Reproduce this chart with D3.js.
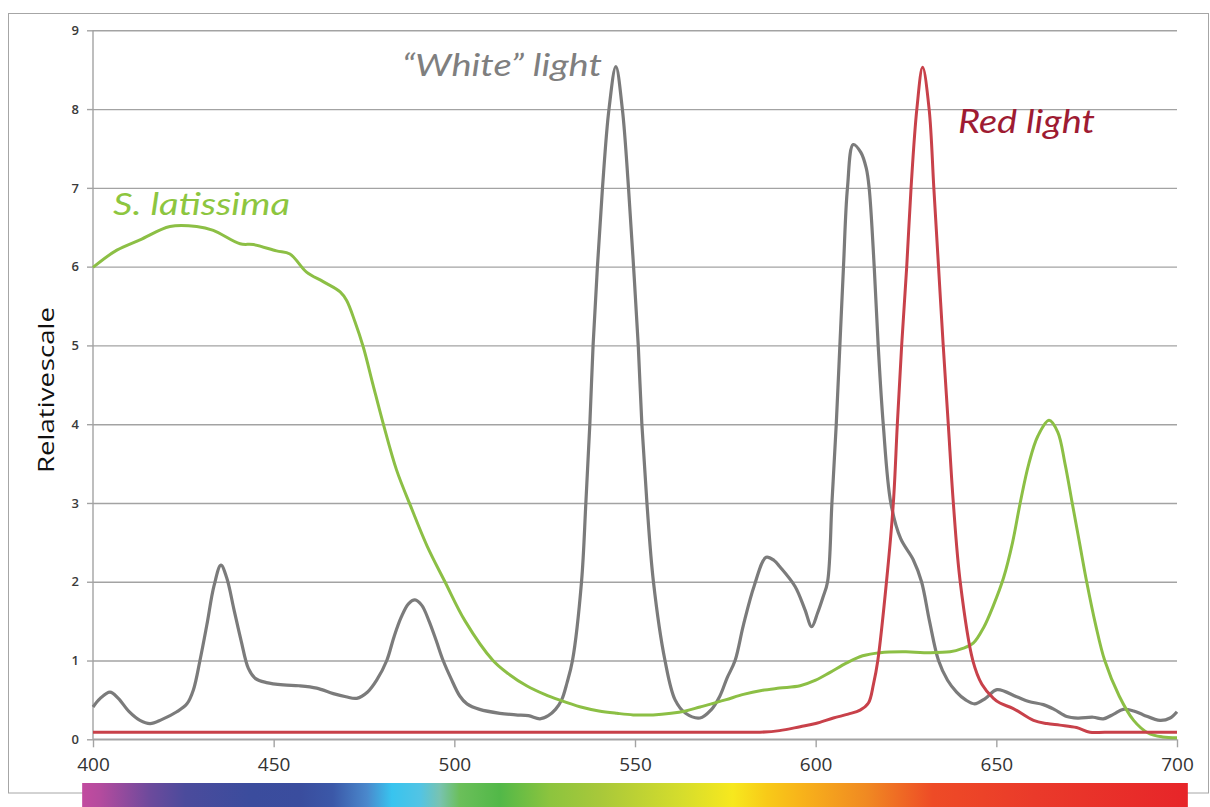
<!DOCTYPE html>
<html>
<head>
<meta charset="utf-8">
<script src="https://cdn.jsdelivr.net/npm/d3@7"></script>
<style>
  html, body { margin: 0; padding: 0; background: #fff; }
  svg { display: block; }
</style>
</head>
<body>
<svg id="chart" width="1210" height="807"></svg>
<script>
// Wavelength axis (nm) and relative-scale axis
const wavelengthTicks = [400, 450, 500, 550, 600, 650, 700];
const scaleTicks = [0, 1, 2, 3, 4, 5, 6, 7, 8, 9];

// [wavelength nm, relative value]
const whiteLight = [
  [400,0.41],[402,0.52],[404.7,0.60],[407,0.52],[410,0.35],[413,0.24],[415.8,0.20],[419,0.25],
  [423.2,0.35],[426,0.45],[427.8,0.63],[429.6,1.0],[431.5,1.45],[433.5,1.95],[435.4,2.21],[437,2.05],
  [439,1.65],[441,1.25],[443,0.9],[445,0.77],[448,0.72],[452.7,0.69],[457,0.68],[461.9,0.65],[466.5,0.58],
  [470,0.54],[473,0.52],[476,0.6],[478.5,0.75],[481.3,1.0],[483.3,1.3],[485.3,1.55],[487.3,1.72],
  [489.1,1.77],[491,1.7],[493,1.5],[495,1.25],[496.9,1.0],[499,0.78],[501.5,0.55],[503.5,0.45],
  [507,0.38],[512.6,0.33],[517,0.31],[520.5,0.30],[523.7,0.26],[526,0.30],[528,0.38],[529.7,0.5],
  [531.2,0.72],[532.7,1.0],[535.2,2.0],[536.4,3.0],[537.5,4.0],[538.4,5.0],[539.6,6.0],[541.0,7.0],
  [542.8,8.0],[544.7,8.54],[546.5,8.0],[548.2,7.0],[549.6,6.0],[550.9,5.0],[551.9,4.0],[553.3,3.0],
  [555.1,2.0],[558.3,1.0],[561.1,0.5],
  [564,0.33],[568,0.27],[571,0.37],[573.5,0.55],[575.5,0.78],[577.7,1.0],[580,1.45],[583,1.95],
  [586.3,2.31],[588.5,2.27],[590.1,2.19],[594.3,1.94],[597,1.65],[598.9,1.43],[600.5,1.6],[602,1.8],
  [603.3,2.0],[604.5,3.0],[605.7,4.0],[606.7,5.0],[607.7,6.0],[608.8,7.0],[610.4,7.55],[612.5,7.45],
  [614,7.25],[614.8,7.0],[616.2,6.0],[617.3,5.0],[618.7,4.0],[620.8,3.0],[623.5,2.55],
  [627,2.28],[629.3,2.0],[631.5,1.5],[634,1.0],[636.5,0.75],[639,0.6],[641.5,0.5],[644,0.45],
  [647,0.52],[650.2,0.63],[655.6,0.54],[659,0.48],[663,0.44],[666,0.38],[669.5,0.29],[672.5,0.27],
  [676.8,0.28],[679.6,0.26],[682.5,0.32],[685.1,0.38],[688,0.36],[690.7,0.31],[695.3,0.24],[698.1,0.27],
  [700,0.35]
];

const redLight = [
  [400,0.09],[450,0.09],[500,0.09],[550,0.09],[575,0.09],[584.6,0.09],[590,0.11],[595.7,0.16],[600,0.2],
  [604.9,0.27],[609,0.32],[612.3,0.37],[614.6,0.46],[616,0.7],[617.2,1.0],[619.6,2.0],[621.5,3.0],
  [622.6,4.0],[623.8,5.0],[625.2,6.0],[626.4,7.0],[628.0,8.0],[629.6,8.53],[631.4,8.0],[632.7,7.0],
  [634.0,6.0],[635.3,5.0],[636.7,4.0],[638.1,3.0],[640.0,2.0],[643.5,1.0],[646,0.7],[649.2,0.52],
  [651,0.46],[654.7,0.39],[660.3,0.24],[664,0.2],[667.6,0.18],[672.2,0.15],[675.9,0.09],[680,0.09],
  [690,0.09],[700,0.09]
];

const latissima = [
  [400,5.99],[406.6,6.21],[413,6.34],[421.3,6.51],[428.7,6.51],[433.3,6.46],[440.7,6.29],[444.4,6.28],
  [450.8,6.20],[454.5,6.16],[459.1,5.93],[463.7,5.81],[468.4,5.68],[470.2,5.57],[472.5,5.3],[474.8,4.98],
  [477.5,4.5],[480.3,4.01],[484,3.42],[488,2.95],[492.5,2.45],[497.4,2.0],[503,1.5],[510.7,1.0],
  [515,0.83],[520,0.68],[525,0.57],[529,0.5],[535,0.41],[540,0.36],[545,0.33],[549.5,0.31],
  [555,0.31],[560,0.33],[564,0.36],[568,0.41],[575,0.5],[580,0.57],[585,0.62],[590,0.65],
  [595.7,0.68],[600,0.75],[604,0.85],[608.6,0.97],[613,1.06],[617.8,1.10],[625,1.11],[630,1.10],
  [637.2,1.11],[640.5,1.15],[643.6,1.22],[646.5,1.42],[649.2,1.7],[652,2.05],[654.5,2.5],[656.6,3.0],
  [659,3.5],[661.5,3.85],[664.6,4.05],[667,3.9],[669,3.5],[671,3.0],[673,2.5],[675,2.0],
  [677.5,1.45],[680,1.0],[684,0.55],[688,0.24],[692,0.08],[696,0.03],[700,0.02]
];

// Visible-spectrum colour stops along the wavelength strip
const spectrumStops = [
  [397.0,"#c24b9f"],[402.0,"#b44b9e"],[415.8,"#6c4a9c"],[425.5,"#4b4b9c"],[443.5,"#3b4c9d"],
  [457.3,"#3a4d9e"],[466.4,"#3b58a8"],[475.8,"#4a88cc"],[482.7,"#38c4ef"],[490.5,"#52c4e4"],
  [496.0,"#78c3b0"],[501.5,"#6bbf5a"],[512.6,"#52b848"],[526.4,"#8cc43e"],[540.3,"#a8c83a"],
  [563.2,"#d6dd2c"],[577.1,"#f7e81e"],[586.5,"#f8ca18"],[595.6,"#f8b41a"],[614.2,"#f08922"],
  [632.4,"#ee4b26"],[660.1,"#ea3a2a"],[703.0,"#e72529"]
];

const svg = d3.select("#chart");
const plot = { left: 93, right: 1177, top: 30.3, bottom: 739.3 };

const x = d3.scaleLinear().domain([400, 700]).range([plot.left, plot.right]);
const y = d3.scaleLinear().domain([0, 9]).range([plot.bottom, plot.top]);

// Outer frame
svg.append("rect")
  .attr("x", 8.5).attr("y", 13.5).attr("width", 1200).attr("height", 779.5)
  .attr("fill", "none").attr("stroke", "#a6a6a6").attr("stroke-width", 1);

// Horizontal gridlines
const yAxis = d3.axisLeft(y).tickValues(scaleTicks).tickSize(-(plot.right - plot.left))
  .tickPadding(11).tickFormat(d3.format("d"));
const gy = svg.append("g").attr("transform", `translate(${plot.left},0)`).call(yAxis);
gy.select(".domain").remove();
gy.selectAll(".tick line").attr("stroke", "#a3a3a3").attr("stroke-width", 1.4);
gy.selectAll(".tick").append("line")
  .attr("x1", -6).attr("x2", 0).attr("stroke", "#a3a3a3").attr("stroke-width", 1.4);
gy.selectAll(".tick text")
  .attr("fill", "#3a3a3a").attr("font-family", "Open Sans, sans-serif")
  .attr("font-weight", 600).attr("font-size", 13).attr("x", -14);

// Vertical axis line
svg.append("line")
  .attr("x1", plot.left).attr("x2", plot.left).attr("y1", plot.top).attr("y2", plot.bottom)
  .attr("stroke", "#a3a3a3").attr("stroke-width", 1.4);

// Wavelength axis
const xAxis = d3.axisBottom(x).tickValues(wavelengthTicks).tickSize(8).tickPadding(8)
  .tickFormat(d3.format("d"));
const gx = svg.append("g").attr("transform", `translate(0,${plot.bottom})`).call(xAxis);
gx.select(".domain").attr("stroke", "#a3a3a3").attr("stroke-width", 1.4)
  .attr("d", `M${plot.left},0H${plot.right}`);
gx.selectAll(".tick line").attr("stroke", "#a3a3a3").attr("stroke-width", 1.4);
gx.selectAll(".tick text")
  .attr("fill", "#333").attr("font-family", "Open Sans, sans-serif")
  .attr("font-size", 19).attr("dy", "0.85em");

// Axis title
svg.append("text")
  .attr("transform", "translate(54,390) rotate(-90)")
  .attr("text-anchor", "middle")
  .attr("font-family", "Open Sans, sans-serif").attr("font-size", 22)
  .attr("fill", "#111").attr("word-spacing", -5)
  .attr("textLength", 166).attr("lengthAdjust", "spacingAndGlyphs")
  .text("Relative scale");

// Spectrum strip
const defs = svg.append("defs");
const grad = defs.append("linearGradient").attr("id", "spectrum")
  .attr("gradientUnits", "userSpaceOnUse")
  .attr("x1", x(397)).attr("x2", x(703)).attr("y1", 0).attr("y2", 0);
grad.selectAll("stop").data(spectrumStops).join("stop")
  .attr("offset", d => (d[0] - 397) / (703 - 397))
  .attr("stop-color", d => d[1]);
svg.append("rect")
  .attr("x", x(397)).attr("y", 783).attr("width", x(703) - x(397)).attr("height", 24)
  .attr("fill", "url(#spectrum)");

// Curves
const line = d3.line().x(d => x(d[0])).y(d => y(d[1])).curve(d3.curveCatmullRom.alpha(0.5));
const series = [
  { data: whiteLight, color: "#7b7b7b", width: 3.2 },
  { data: latissima, color: "#8cbf45", width: 3.0 },
  { data: redLight, color: "#c8414a", width: 3.0 }
];
svg.append("g").selectAll("path").data(series).join("path")
  .attr("d", d => line(d.data))
  .attr("fill", "none")
  .attr("stroke", d => d.color)
  .attr("stroke-width", d => d.width)
  .attr("stroke-linejoin", "round");

// Series labels
const labels = [
  { text: "S. latissima", x: 113, y: 215, size: 31, len: 177, color: "#8dc63f" },
  { text: "\u201CWhite\u201D light", x: 402, y: 76, size: 30, len: 200, color: "#7f7f7f" },
  { text: "Red light", x: 958, y: 133, size: 32, len: 137, color: "#9e1b32" }
];
svg.append("g").selectAll("text").data(labels).join("text")
  .attr("x", d => d.x).attr("y", d => d.y)
  .attr("font-family", "Lato, Open Sans, sans-serif")
  .attr("font-style", "italic")
  .attr("font-size", d => d.size)
  .attr("fill", d => d.color)
  .attr("textLength", d => d.len)
  .attr("lengthAdjust", "spacingAndGlyphs")
  .text(d => d.text);
</script>
</body>
</html>
